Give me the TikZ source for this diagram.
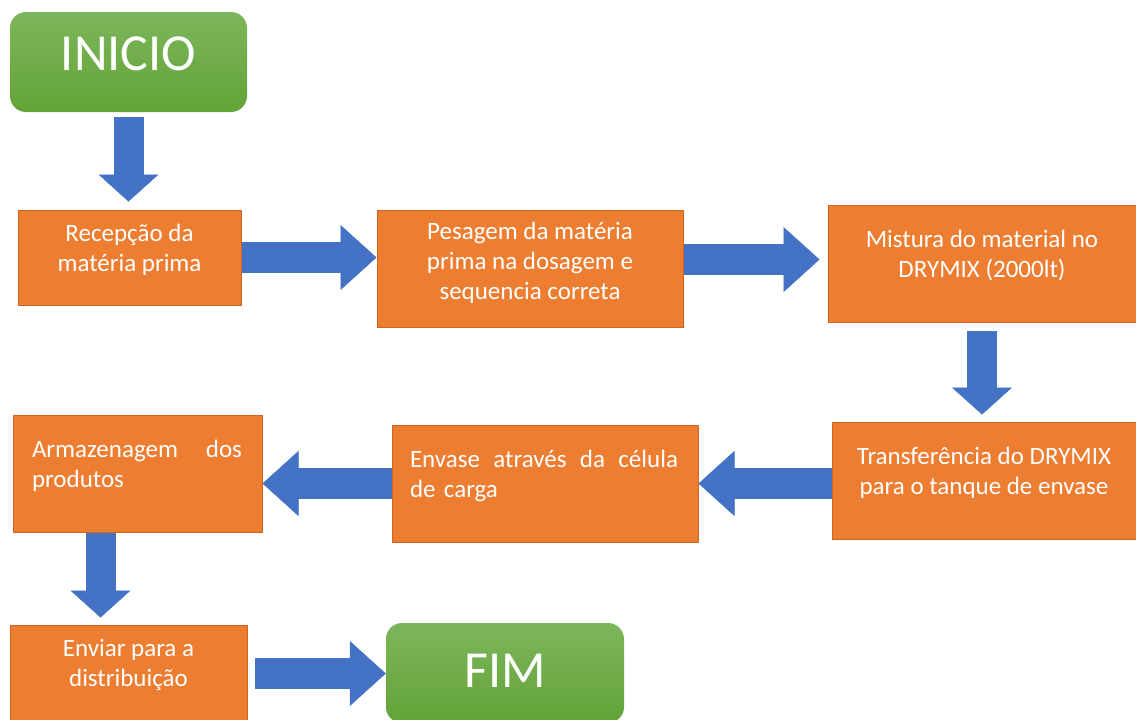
\documentclass[tikz,border=0pt]{standalone}
\usepackage{fontspec}
\setmainfont{Carlito}
\usetikzlibrary{arrows.meta}
\definecolor{laranja}{HTML}{ED7D31}
\definecolor{laranjaborda}{HTML}{CF6520}
\definecolor{azul}{HTML}{4472C4}
\definecolor{verdeclaro}{HTML}{7CB65C}
\definecolor{verdeescuro}{HTML}{63A337}
\tikzset{
  caixa/.style={draw=laranjaborda, line width=1pt, fill=laranja, inner sep=0pt},
  inicio/.style={rounded corners=16pt, top color=verdeclaro, bottom color=verdeescuro,
    text=white, font=\fontsize{52}{60}\selectfont, inner sep=0pt},
  texto/.style={text=white, font=\fontsize{25}{30}\selectfont, align=center, inner sep=0pt},
  seta/.style={draw=azul, line width=31pt, -{Triangle[width=65pt,length=36pt,line width=0.5pt]}},
  setabaixo/.style={draw=azul, line width=30pt, -{Triangle[width=60pt,length=27pt,line width=0.5pt]}}
}
\begin{document}
\begin{tikzpicture}[x=1pt,y=-1pt]
\clip (0,0) rectangle (1136,720);

% caixas
\node[inicio, minimum width=237, minimum height=100, text depth=16pt] (ini) at (128.5,62) {INICIO};
\node[caixa, minimum width=223, minimum height=95] (rec) at (129.5,257.5) {};
\node[caixa, minimum width=306, minimum height=117] (pes) at (530,268.5) {};
\node[caixa, minimum width=308, minimum height=117] (mis) at (982,263.5) {};
\node[caixa, minimum width=304, minimum height=117] (tra) at (984,480.5) {};
\node[caixa, minimum width=306, minimum height=117] (env) at (545,483.5) {};
\node[caixa, minimum width=249, minimum height=117] (arm) at (137.5,473.5) {};
\node[caixa, minimum width=237, minimum height=97] (envi) at (128.5,673.5) {};
\node[inicio, minimum width=238, minimum height=100, text depth=4pt] (fim) at (505,673) {FIM};

% textos
\node[texto] (rec-t) at (129.5,250) {Recepção da\\matéria prima};
\node[texto] (pes-t) at (530,263) {Pesagem da matéria\\prima na dosagem e\\sequencia correta};
\node[texto] (mis-t) at (982,255.5) {Mistura do material no\\DRYMIX (2000lt)};
\node[texto] (tra-t) at (984,473) {Transferência do DRYMIX\\para o tanque de envase};
\node[texto, text width=268, align=left] (env-t) at (544,476) {Envase\hfill através\hfill da\hfill célula\\de carga};
\node[texto, text width=210, align=left] (arm-t) at (137,466) {Armazenagem\hfill dos\\produtos};
\node[texto] (envi-t) at (128.5,664.5) {Enviar para a\\distribuição};

% setas
\draw[setabaixo, shorten <=5pt, shorten >=8pt] (ini.south) -- (ini.south |- rec.north);
\draw[seta] (rec.east) -- (rec.east -| pes.west);
\coordinate (c2) at ([yshift=9pt]pes.east);
\draw[seta, shorten >=8pt] (c2) -- (c2 -| mis.west);
\draw[setabaixo, shorten <=8pt, shorten >=7pt] (mis.south) -- (mis.south |- tra.north);
\draw[seta] (tra.west |- env.east) -- (env.east);
\draw[seta] (env.west) -- (env.west -| arm.east);
\coordinate (c3) at ([xshift=-37pt]arm.south);
\draw[setabaixo, shorten >=7pt] (c3) -- (c3 |- envi.north);
\draw[seta, shorten <=7pt] (envi.east) -- (envi.east -| fim.west);
\end{tikzpicture}
\end{document}
